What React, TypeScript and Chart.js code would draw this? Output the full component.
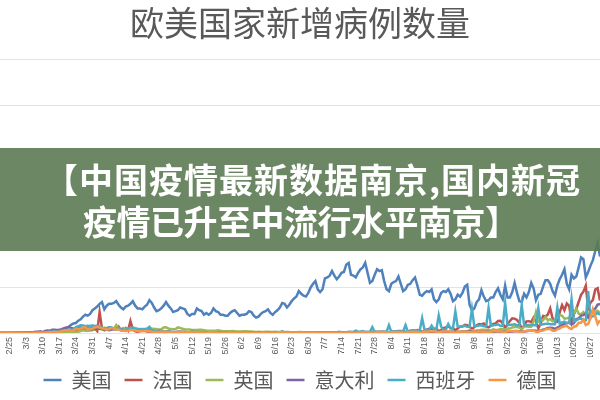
import React, { useEffect, useRef } from 'react';
import { Chart, registerables } from 'chart.js';

Chart.register(...registerables);

// Daily categories: 2020-02-21 .. 2020-10-31 (254 days)
const START_DATE = Date.UTC(2020, 1, 21);
const DAY_COUNT = 254;
const CATEGORIES: string[] = [];
for (let i = 0; i < DAY_COUNT; i++) {
  const d = new Date(START_DATE + i * 86400000);
  CATEGORIES.push(`${d.getUTCMonth() + 1}/${d.getUTCDate()}`);
}

const TICK_LABELS = [
  '2/25', '3/3', '3/10', '3/17', '3/24', '3/31', '4/7', '4/14', '4/21', '4/28',
  '5/5', '5/12', '5/19', '5/26', '6/2', '6/9', '6/16', '6/23', '6/30', '7/7',
  '7/14', '7/21', '7/28', '8/4', '8/11', '8/18', '8/25', '9/1', '9/8', '9/15',
  '9/22', '9/29', '10/6', '10/13', '10/20', '10/27',
];

const SERIES_NAMES = ['美国', '法国', '英国', '意大利', '西班牙', '德国'];
const SERIES_COLORS = ['#4F81BD', '#C0504D', '#9BBB59', '#8064A2', '#4BACC6', '#F79646'];

// values in thousands of new cases per day (Feb 21-29, then one block per month)
const US = [
  0, 0, 0, 0, 0, 0, 0, 0, 0,
  0.0, 0.1, 0.1, 0.1, 0.1, 0.1, 0.1, 0.2, 0.2, 0.3,
  0.3, 0.4, 0.5, 0.6, 0.7, 0.9, 1.5, 2.3, 3.5, 5.0,
  7.0, 9.0, 10.5, 11.0, 13.5, 15.0, 18.0, 20.0, 19.0, 21.0, 25.0,
  27, 29, 32, 34, 26, 30, 32, 32, 33, 35,
  31, 28, 26, 29, 30, 32, 35, 30, 27, 27,
  26, 29, 31, 36, 33, 28, 24, 25, 27, 30,
  34, 30, 27, 23, 24, 25, 28, 27, 26, 21,
  19, 21, 21, 27, 25, 24, 20, 22, 20, 22,
  27, 24, 23, 20, 20, 19, 19, 22, 24, 25, 22,
  19, 20, 20, 21, 24, 23, 19, 17, 18, 21,
  23, 24, 26, 22, 20, 23, 25, 28, 33, 32,
  28, 31, 35, 38, 40, 46, 43, 41, 40, 44,
  50, 54, 57, 48, 45, 48, 60, 61, 63, 68,
  63, 59, 62, 66, 67, 75, 77, 64, 63, 61,
  66, 70, 72, 77, 66, 55, 57, 64, 70, 68, 69,
  57, 48, 46, 54, 56, 57, 62, 54, 46, 48,
  53, 54, 58, 61, 52, 42, 41, 44, 46, 45,
  48, 37, 34, 37, 44, 46, 45, 48, 43, 35, 37,
  42, 40, 44, 51, 53, 31, 25, 27, 34, 37,
  47, 40, 35, 36, 39, 39, 45, 49, 42, 37,
  52, 39, 39, 45, 55, 44, 35, 34, 43, 39,
  45, 55, 49, 36, 42, 43, 51, 58, 58, 54,
  46, 41, 52, 59, 64, 70, 54, 48, 64, 60,
  62, 72, 83, 81, 61, 67, 74, 80, 90, 99, 84,
];

const FRANCE = [
  0, 0, 0, 0, 0, 0, 0, 0, 0,
  0, 0.1, 0.1, 0.1, 0.1, 0.3, 0.2, 0.3, 0.3, 0.4,
  0.5, 0.6, 0.8, 0.8, 0.9, 1.2, 1.1, 1.4, 1.8, 1.6,
  1.8, 1.6, 3.8, 2.4, 2.9, 3.9, 3.8, 4.6, 2.6, 4.4, 7.6,
  4.9, 2.1, 23.0, 5.0, 2.9, 3.9, 3.8, 4.3, 4.8, 4.3,
  7.1, 2.9, 2.7, 5.5, 2.6, 13.0, 4.0, 2.1, 1.0, 2.4,
  2.7, 2.4, 1.6, 1.6, 1.7, 0.9, 1.1, 1.5, 1.2, 1.1,
  1.0, 0.8, 0.6, 0.5, 0.7, 1.1, 1.0, 0.8, 0.6, 0.3,
  0.5, 0.8, 0.6, 0.7, 0.6, 0.4, 0.3, 0.3, 0.5, 0.5,
  0.5, 0.4, 0.3, 0.2, 0.4, 0.5, 0.4, 0.6, 0.5, 0.4, 0.3,
  0.3, 0.3, 0.6, 0.5, 0.6, 0.5, 0.3, 0.2, 0.4, 0.5,
  0.5, 0.4, 0.5, 0.4, 0.2, 0.3, 0.5, 0.5, 0.5, 0.5,
  0.4, 0.3, 0.4, 0.5, 0.5, 0.6, 0.5, 0.4, 0.3, 0.5,
  0.6, 0.5, 0.6, 0.6, 0.4, 0.3, 0.5, 0.6, 0.7, 0.7,
  0.6, 0.5, 0.4, 0.7, 0.7, 0.8, 0.9, 1.1, 0.7, 0.5,
  0.9, 1.0, 1.1, 1.1, 1.1, 0.8, 0.7, 1.4, 1.4, 1.4, 1.3,
  1.3, 0.9, 0.8, 1.0, 1.7, 1.6, 2.3, 2.3, 1.6, 1.4,
  1.4, 2.5, 2.7, 2.8, 3.3, 2.9, 1.2, 1.9, 3.8, 4.8,
  4.8, 4.6, 4.9, 1.9, 3.3, 5.4, 6.1, 7.4, 5.5, 5.5, 3.1,
  4.9, 7.0, 7.2, 8.9, 8.5, 7.1, 4.2, 6.5, 8.5, 9.8,
  9.4, 10.5, 7.2, 6.2, 7.9, 10.0, 10.6, 13.2, 13.5, 10.6,
  5.3, 10.0, 13.1, 16.1, 15.8, 14.4, 11.1, 4.1, 8.0, 12.8,
  13.0, 12.1, 16.9, 12.6, 5.1, 10.5, 18.7, 18.1, 20.3, 27.0,
  16.1, 12.5, 12.3, 22.6, 30.6, 25.1, 32.4, 29.8, 12.0, 20.5,
  26.7, 34.0, 42.0, 45.4, 52.0, 26.8, 33.4, 36.4, 47.6, 49.2, 35.6,
];

const UK = [
  0, 0, 0, 0, 0, 0, 0, 0, 0,
  0, 0, 0, 0, 0, 0, 0, 0, 0.1, 0.1,
  0.1, 0.1, 0.2, 0.2, 0.2, 0.2, 0.3, 0.4, 0.6, 0.7,
  1.0, 0.7, 1.0, 1.4, 1.5, 2.1, 2.9, 2.5, 2.4, 2.6, 3.0,
  4.3, 4.4, 4.5, 3.7, 5.9, 3.8, 3.6, 5.5, 4.3, 8.7,
  5.2, 4.3, 5.3, 4.6, 4.6, 5.6, 5.5, 5.5, 4.7, 4.3,
  4.5, 4.5, 4.6, 5.4, 4.9, 4.5, 4.3, 3.9, 4.1, 6.0,
  6.2, 5.0, 4.3, 4.0, 4.4, 6.1, 5.6, 4.6, 3.9, 3.9,
  3.9, 3.4, 3.4, 3.4, 3.6, 3.5, 3.1, 2.7, 2.4, 2.5,
  2.6, 2.6, 2.9, 2.4, 2.1, 2.0, 2.0, 2.0, 2.1, 1.9, 1.6,
  1.6, 1.6, 1.9, 1.8, 1.6, 1.6, 1.4, 1.2, 1.4, 1.0,
  1.2, 1.5, 1.4, 1.1, 1.1, 1.3, 1.1, 1.2, 1.3, 1.0,
  1.2, 1.0, 0.9, 0.7, 0.7, 1.2, 1.0, 0.9, 0.8, 0.7,
  0.8, 0.8, 0.6, 0.6, 0.5, 0.4, 0.6, 0.6, 0.6, 0.5,
  0.8, 0.7, 0.6, 0.6, 0.5, 0.5, 0.8, 0.8, 0.8, 0.7,
  0.5, 0.6, 0.7, 0.8, 0.8, 0.8, 0.7, 0.7, 0.8, 0.8, 0.9,
  0.8, 0.7, 0.7, 0.7, 0.9, 0.9, 0.9, 0.7, 0.7, 0.9,
  1.0, 1.0, 1.1, 1.1, 1.0, 1.0, 1.2, 1.1, 0.8, 1.2,
  1.1, 1.0, 1.0, 1.1, 0.9, 1.0, 1.0, 1.2, 1.3, 1.1, 1.0,
  1.3, 1.5, 1.7, 1.8, 1.9, 2.9, 2.9, 2.4, 2.7, 2.9,
  3.5, 3.5, 3.5, 3.3, 2.6, 4.0, 3.4, 3.4, 4.3, 4.4,
  3.9, 4.9, 4.9, 6.1, 6.6, 6.9, 5.7, 4.0, 7.1, 7.1,
  6.9, 6.9, 12.9, 23.0, 12.6, 14.5, 14.2, 17.5, 13.9, 15.2,
  12.9, 13.9, 17.2, 19.7, 18.9, 15.7, 16.2, 16.9, 18.8, 21.3,
  26.7, 21.2, 20.5, 23.0, 19.8, 20.9, 22.9, 24.7, 23.1, 24.4, 21.9,
];

const ITALY = [
  0.02, 0.06, 0.08, 0.07, 0.09, 0.1, 0.25, 0.24, 0.24,
  0.57, 0.34, 0.47, 0.59, 0.77, 0.78, 1.25, 1.49, 1.8, 0.98,
  2.3, 2.65, 2.55, 3.5, 3.6, 3.2, 3.5, 4.2, 5.3, 6.0,
  6.6, 5.6, 4.8, 5.2, 5.2, 6.2, 5.9, 6.0, 5.2, 4.1, 4.1,
  4.8, 4.7, 4.6, 4.8, 4.3, 3.6, 3.0, 3.8, 4.2, 4.0,
  4.7, 4.1, 3.2, 3.0, 2.7, 3.8, 3.5, 3.5, 3.0, 2.3,
  2.7, 3.4, 2.6, 3.0, 2.4, 2.3, 1.7, 2.1, 2.1, 1.9,
  1.9, 1.9, 1.4, 1.2, 1.1, 1.4, 1.4, 1.3, 1.1, 0.8,
  0.7, 1.4, 0.9, 1.0, 0.8, 0.9, 0.7, 0.5, 0.8, 0.7,
  0.6, 0.7, 0.7, 0.5, 0.3, 0.4, 0.6, 0.5, 0.5, 0.4, 0.4,
  0.2, 0.3, 0.3, 0.2, 0.5, 0.5, 0.3, 0.3, 0.3, 0.2,
  0.4, 0.2, 0.2, 0.3, 0.3, 0.2, 0.3, 0.3, 0.3, 0.3,
  0.3, 0.2, 0.1, 0.2, 0.3, 0.3, 0.2, 0.2, 0.1, 0.1,
  0.2, 0.2, 0.2, 0.2, 0.2, 0.2, 0.1, 0.2, 0.2, 0.3,
  0.2, 0.2, 0.2, 0.1, 0.2, 0.2, 0.2, 0.2, 0.2, 0.1,
  0.1, 0.3, 0.3, 0.3, 0.3, 0.3, 0.2, 0.2, 0.2, 0.4, 0.4,
  0.4, 0.3, 0.2, 0.2, 0.4, 0.4, 0.6, 0.6, 0.5, 0.3,
  0.3, 0.5, 0.5, 0.6, 0.6, 0.6, 0.5, 0.3, 0.6, 0.6,
  0.8, 0.9, 1.1, 1.1, 1.0, 0.9, 1.4, 1.4, 1.5, 1.4, 1.1,
  1.0, 1.0, 1.3, 1.4, 1.7, 1.7, 1.3, 1.1, 1.4, 1.4,
  1.6, 1.5, 1.5, 1.0, 1.2, 1.5, 1.5, 1.9, 1.6, 1.6,
  1.3, 1.4, 1.4, 1.6, 1.8, 1.9, 1.8, 1.5, 1.6, 1.9,
  2.5, 2.5, 2.8, 2.6, 2.3, 2.7, 3.7, 4.5, 5.4, 5.7,
  5.5, 4.6, 5.9, 7.3, 8.8, 10.0, 10.9, 11.7, 9.3, 10.9,
  15.2, 16.1, 19.1, 19.6, 21.3, 17.0, 21.9, 24.9, 26.8, 31.1, 31.8,
];

const SPAIN = [
  0, 0, 0, 0, 0.01, 0.01, 0.01, 0.02, 0.03,
  0.02, 0.05, 0.04, 0.05, 0.06, 0.1, 0.14, 0.2, 0.5, 0.6,
  0.6, 0.9, 1.3, 1.5, 2.0, 1.4, 1.9, 2.5, 2.8, 3.4,
  3.1, 3.5, 4.3, 6.6, 7.5, 8.6, 8.3, 7.5, 8.0, 7.8, 8.2,
  7.7, 7.9, 7.1, 6.0, 4.3, 5.5, 6.2, 6.2, 4.8, 4.6,
  4.8, 3.8, 3.3, 3.0, 5.1, 5.2, 5.9, 4.5, 4.2, 4.0,
  4.0, 4.2, 4.6, 6.7, 2.9, 2.2, 1.8, 1.3, 2.1, 1.8,
  1.5, 1.8, 0.8, 0.5, 0.9, 1.1, 1.0, 1.1, 0.7, 0.6,
  0.4, 0.6, 0.4, 0.5, 0.6, 0.4, 0.3, 0.3, 0.4, 0.4,
  0.5, 0.7, 0.5, 0.3, 0.2, 0.4, 0.3, 0.4, 0.5, 0.4, 0.3,
  0.2, 0.3, 0.4, 0.3, 0.3, 0.3, 0.2, 0.2, 0.3, 0.3,
  0.3, 0.5, 0.4, 0.3, 0.2, 0.3, 0.6, 0.6, 1.8, 0.4,
  0.3, 0.2, 0.3, 0.3, 0.4, 0.4, 0.3, 0.2, 0.4, 0.4,
  0.4, 0.3, 0.4, 0.4, 0.4, 0.9, 0.3, 0.4, 0.6, 0.9,
  0.8, 0.8, 1.4, 0.9, 0.6, 0.6, 1.4, 1.2, 1.2, 2.5,
  1.4, 1.4, 2.0, 1.0, 1.2, 1.2, 6.4, 1.0, 1.2, 1.2, 1.5,
  1.4, 1.4, 8.5, 1.2, 1.8, 1.7, 1.7, 1.6, 1.6, 8.6,
  1.5, 1.7, 2.9, 3.0, 2.8, 2.8, 16.3, 3.6, 3.7, 3.4,
  8.1, 4.0, 4.0, 19.4, 7.1, 3.6, 3.8, 9.8, 5.0, 5.0, 23.6,
  7.0, 7.2, 7.5, 8.0, 7.0, 7.0, 26.6, 7.5, 7.8, 8.2,
  8.5, 7.5, 7.5, 27.4, 8.0, 8.5, 8.8, 9.5, 8.0, 8.0,
  33.0, 8.5, 9.0, 9.0, 9.5, 8.5, 8.5, 30.5, 8.5, 8.5,
  8.8, 9.0, 8.5, 8.5, 27.0, 9.0, 9.5, 10.0, 10.5, 9.5,
  9.5, 9.5, 27.9, 10.5, 11.5, 12.5, 11.0, 11.0, 37.0, 13.0,
  14.0, 15.5, 16.0, 14.0, 14.0, 46.0, 17.0, 18.5, 20.0, 22.0, 20.0,
];

const GERMANY = [
  0, 0, 0, 0, 0, 0.01, 0.02, 0.03, 0.07,
  0.07, 0.03, 0.06, 0.07, 0.1, 0.2, 0.2, 0.3, 0.3, 0.4,
  0.5, 0.8, 0.9, 1.0, 1.1, 1.2, 1.2, 1.9, 2.8, 3.1,
  3.0, 2.3, 2.8, 4.8, 4.1, 4.9, 6.0, 6.3, 4.0, 4.4, 4.9,
  6.1, 6.8, 6.0, 5.3, 4.8, 3.7, 4.0, 5.6, 5.0, 4.1,
  3.7, 2.8, 2.5, 2.1, 2.5, 3.4, 3.1, 3.0, 1.8, 1.8,
  1.8, 2.2, 2.4, 2.3, 1.5, 1.0, 1.0, 1.1, 1.3, 1.5,
  1.6, 0.9, 0.7, 0.7, 0.9, 1.1, 1.3, 1.2, 0.7, 0.7,
  0.9, 0.9, 0.8, 0.9, 0.6, 0.6, 0.5, 0.3, 0.8, 0.7,
  0.5, 0.6, 0.4, 0.3, 0.3, 0.4, 0.4, 0.7, 0.3, 0.6, 0.3,
  0.3, 0.2, 0.3, 0.5, 0.4, 0.4, 0.3, 0.2, 0.3, 0.3,
  0.6, 0.4, 0.3, 0.2, 0.2, 0.4, 0.6, 0.8, 0.6, 0.6,
  0.5, 0.5, 0.6, 0.6, 0.6, 0.5, 0.5, 0.3, 0.3, 0.4,
  0.5, 0.5, 0.4, 0.4, 0.2, 0.3, 0.4, 0.4, 0.4, 0.4,
  0.4, 0.2, 0.2, 0.4, 0.4, 0.5, 0.6, 0.6, 0.3, 0.2,
  0.5, 0.6, 0.8, 0.8, 0.8, 0.3, 0.3, 0.6, 0.7, 0.9, 0.9,
  1.0, 0.5, 0.5, 0.9, 0.7, 0.9, 1.1, 1.0, 0.6, 0.4,
  1.2, 1.2, 1.4, 1.4, 1.4, 0.6, 0.6, 1.7, 1.5, 1.7,
  1.7, 2.0, 1.0, 0.7, 1.3, 1.6, 1.6, 1.6, 1.5, 0.7, 0.6,
  1.2, 1.2, 1.3, 1.5, 1.4, 0.9, 0.8, 1.5, 1.2, 1.8,
  1.5, 1.6, 1.0, 0.9, 1.4, 1.9, 2.2, 1.9, 2.3, 1.3,
  0.9, 1.8, 1.8, 2.1, 2.2, 2.5, 1.4, 1.2, 1.8, 2.5,
  2.5, 2.7, 2.6, 1.4, 1.4, 2.6, 2.8, 4.0, 4.5, 4.7,
  2.5, 2.5, 4.1, 5.1, 6.6, 7.3, 7.8, 5.6, 4.3, 6.9,
  7.6, 11.3, 11.2, 14.7, 8.7, 10.0, 16.0, 26.0, 18.0, 10.0, 14.0,
];

const SERIES = [US, FRANCE, UK, ITALY, SPAIN, GERMANY];

const Y_MAX = 300;
const Y_STEP = 50;

const TITLE = '欧美国家新增病例数量';
const BANNER_LINE_1 = '【中国疫情最新数据南京,国内新冠';
const BANNER_LINE_2 = '疫情已升至中流行水平南京】';

const CJK = '"Noto Sans CJK SC", "Noto Sans", sans-serif';

export default function App() {
  const canvasRef = useRef<HTMLCanvasElement>(null);

  useEffect(() => {
    const canvas = canvasRef.current;
    if (!canvas) return;
    const chart = new Chart(canvas, {
      type: 'line',
      data: {
        labels: CATEGORIES,
        datasets: SERIES.map((values, i) => ({
          label: SERIES_NAMES[i],
          data: values,
          borderColor: SERIES_COLORS[i],
          backgroundColor: SERIES_COLORS[i],
          borderWidth: 2.5,
          pointRadius: 0,
          pointHoverRadius: 0,
          tension: 0,
          fill: false,
          order: SERIES.length - 1 - i,
        })),
      },
      options: {
        responsive: false,
        animation: false,
        layout: { padding: 0 },
        plugins: {
          tooltip: { enabled: false },
          title: {
            display: true,
            text: TITLE,
            color: '#595959',
            font: { family: CJK, size: 34, weight: 'normal' },
            padding: { top: 3, bottom: 16 },
          },
          legend: {
            display: true,
            position: 'bottom',
            labels: {
              usePointStyle: true,
              pointStyle: 'line',
              pointStyleWidth: 18,
              color: '#595959',
              font: { family: CJK, size: 20 },
              padding: 13,
              sort: (a: any, b: any) => a.datasetIndex - b.datasetIndex,
            },
          },
        },
        scales: {
          x: {
            offset: false,
            grid: { display: false, drawTicks: false },
            border: { display: false },
            ticks: {
              autoSkip: false,
              minRotation: 90,
              maxRotation: 90,
              padding: 4,
              color: '#595959',
              font: { family: '"Liberation Sans", Arial, sans-serif', size: 9 },
              callback: (_v: any, index: number) => {
                const lab = CATEGORIES[index];
                return TICK_LABELS.includes(lab) ? lab : null;
              },
            },
            afterFit: (scale: any) => {
              scale.paddingLeft = 0;
              scale.paddingRight = 0;
              scale.height = 24;
            },
          },
          y: {
            min: 0,
            max: Y_MAX,
            ticks: { display: false, stepSize: Y_STEP },
            grid: { color: '#e3e3e3', lineWidth: 1, drawTicks: false },
            border: { display: false },
          },
        },
      },
    });
    return () => chart.destroy();
  }, []);

  const lineStyle: React.CSSProperties = {
    position: 'absolute',
    whiteSpace: 'nowrap',
    color: '#ffffff',
    fontFamily: CJK,
    fontWeight: 700,
    fontSize: 34,
    lineHeight: '34px',
  };

  return (
    <div
      style={{
        position: 'fixed',
        left: 0,
        top: 0,
        width: 600,
        height: 400,
        background: '#ffffff',
        overflow: 'hidden',
      }}
    >
      <canvas
        ref={canvasRef}
        width={600}
        height={400}
        style={{ position: 'absolute', left: 0, top: 0, width: 600, height: 400 }}
      />
      <div
        style={{
          position: 'absolute',
          left: 0,
          top: 148,
          width: 600,
          height: 103,
          background: 'rgba(92,122,83,0.9)',
        }}
      />
      <div style={{ ...lineStyle, left: 44, top: 162, letterSpacing: 1 }}>{BANNER_LINE_1}</div>
      <div style={{ ...lineStyle, left: 83, top: 204, letterSpacing: -0.5 }}>{BANNER_LINE_2}</div>
    </div>
  );
}
